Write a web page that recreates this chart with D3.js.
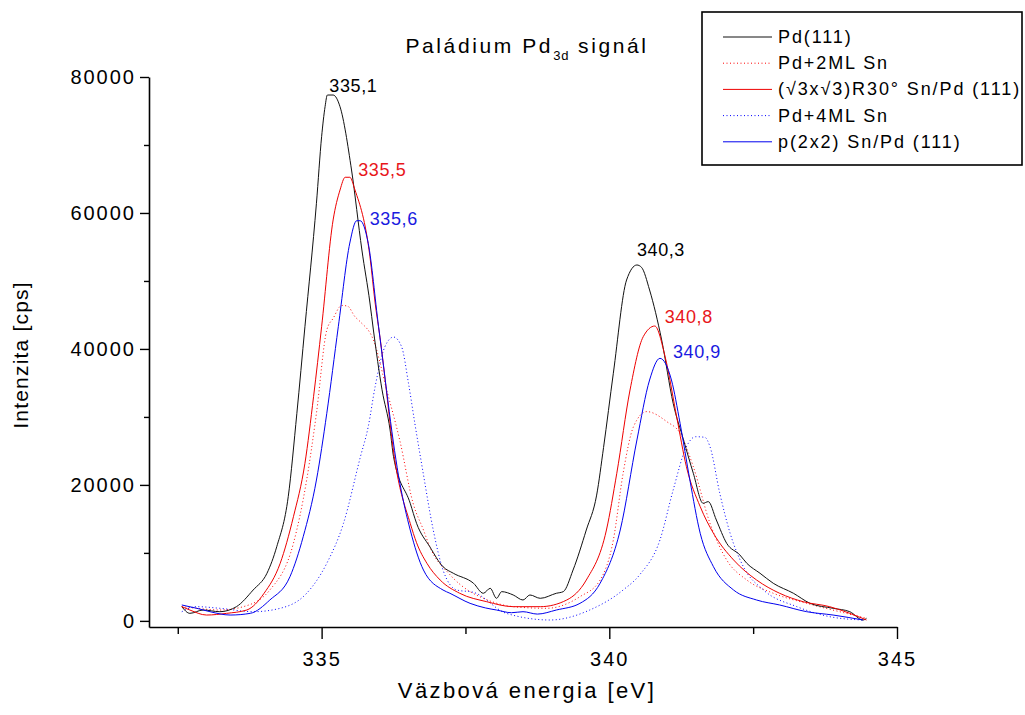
<!DOCTYPE html>
<html>
<head>
<meta charset="utf-8">
<script src="https://cdn.jsdelivr.net/npm/d3@7"></script>
<style>
  body { margin: 0; background: #fff; }
  svg { display: block; font-family: "Liberation Sans", Arial, sans-serif; }
</style>
</head>
<body>
<div id="chart"></div>
<script>
// series names (legend order)
var seriesNames = ["Pd(111)", "Pd+2ML Sn", "(\u221A3x\u221A3)R30\u00B0 Sn/Pd (111)", "Pd+4ML Sn", "p(2x2) Sn/Pd (111)"];

// [energy eV, intensity cps]
var pd111 = [[332.57,2090],[332.71,1110],[332.94,1600],[333.23,1350],[333.52,2090],[333.81,4540],[334.05,7000],[334.22,10910],
  [334.42,18270],[334.57,30530],[334.71,43270],[334.91,61420],[335.0,71220],[335.06,75630],[335.1,77350],[335.2,77350],
  [335.32,75630],[335.52,66320],[335.7,54550],[335.84,46760],[335.9,42790],[336.05,34000],[336.19,28080],[336.25,24150],
  [336.54,17300],[336.65,14350],[336.88,10910],[337.11,7970],[337.29,7000],[337.64,5530],[337.81,4060],[337.93,4790],
  [338.04,3320],[338.13,4300],[338.33,3810],[338.5,3070],[338.62,3810],[338.8,3320],[339.08,4060],[339.2,4300],
  [339.37,7480],[339.6,13370],[339.78,18500],[339.9,25500],[340.07,36420],[340.3,50140],[340.48,52350],[340.56,52000],
  [340.7,48670],[340.91,41320],[341.11,32000],[341.29,26610],[341.46,21710],[341.63,17300],[341.72,17540],[341.86,14840],
  [342.04,11410],[342.27,9690],[342.39,8470],[342.62,7000],[342.85,5530],[343.2,4060],[343.49,2580],[343.89,1850],
  [344.18,1350],[344.41,130],[344.47,380]];

var pd2ml = [[332.57,2090],[332.83,1850],[333.23,1600],[333.64,2090],[334.1,4540],[334.51,11410],[334.74,20720],[334.91,30530],
  [335.09,42790],[335.2,44500],[335.35,46400],[335.45,46300],[335.58,44740],[335.67,44010],[335.9,41320],[336.13,34000],
  [336.36,26500],[336.59,17300],[336.77,13370],[336.88,10910],[337.23,6800],[337.58,4300],[337.75,3560],[338.33,2090],
  [338.91,1850],[339.49,3560],[339.84,6000],[340.07,11900],[340.24,21710],[340.42,28560],[340.65,30780],[341.0,29300],
  [341.23,27590],[341.46,22680],[341.75,14350],[342.04,8960],[342.39,6010],[342.85,4060],[343.43,2580],[344.12,1110],[344.47,380]];

var sqrt3 = [[332.57,2090],[332.71,1600],[333.0,860],[333.35,1110],[333.7,1600],[334.0,4060],[334.28,8470],[334.51,15320],
  [334.71,23180],[334.86,32970],[335.0,43270],[335.2,58970],[335.32,63380],[335.41,65250],[335.49,65250],[335.58,63380],
  [335.84,53570],[335.93,46760],[336.01,42000],[336.3,22190],[336.54,14350],[336.65,11500],[336.83,8470],[337.06,6010],
  [337.4,4060],[337.87,2820],[338.33,2090],[338.8,2090],[339.26,3070],[339.6,6010],[339.95,13370],[340.13,21710],
  [340.36,33960],[340.59,41810],[340.79,43370],[340.97,38860],[341.17,30040],[341.34,22680],[341.58,16800],[341.81,12880],
  [342.16,8960],[342.56,6010],[342.96,4060],[343.37,2820],[343.83,2090],[344.18,1110],[344.47,130]];

var pd4ml = [[332.57,1350],[332.83,2090],[333.23,1850],[333.81,1350],[334.28,1850],[334.74,4060],[335.09,8470],[335.38,14350],
  [335.67,24000],[335.81,28560],[335.93,34450],[336.1,40330],[336.25,41750],[336.39,40330],[336.51,34950],[336.62,29060],
  [336.76,22000],[336.94,13370],[337.11,7480],[337.35,4540],[337.64,4200],[338.21,1110],[338.97,130],[339.66,1600],
  [340.24,4540],[340.53,6800],[340.88,11900],[341.11,19250],[341.34,25620],[341.5,27090],[341.66,27000],[341.75,25620],
  [341.92,18770],[342.1,12880],[342.33,7970],[342.68,4540],[343.26,2090],[343.83,620],[344.41,130]];

var p2x2 = [[332.57,2340],[332.83,1850],[333.06,1350],[333.41,860],[333.76,1110],[334.1,3070],[334.45,6500],[334.68,12380],
  [334.91,20720],[335.09,30530],[335.29,43270],[335.49,55580],[335.61,58860],[335.67,58860],[335.81,55540],[335.99,43270],
  [336.36,20240],[336.54,13370],[336.77,7480],[337.11,4540],[337.23,4060],[337.58,2580],[337.85,1900],[338.04,1600],
  [338.3,1200],[338.5,1350],[338.75,1000],[339.08,1600],[339.49,2580],[339.84,5530],[340.19,13370],[340.48,26610],
  [340.7,35430],[340.88,38620],[341.08,35430],[341.23,29060],[341.4,20720],[341.58,12880],[341.81,7970],[342.16,4540],
  [342.56,3070],[342.96,2340],[343.43,1350],[343.89,860],[344.41,130]];

// peak labels: text, series index, energy window
var peakTexts = ["335,1", "335,5", "335,6", "340,3", "340,8", "340,9"];
var peakSeries = [0, 2, 4, 0, 2, 4];
var peakWindows = [[334, 337], [334, 337], [334, 337], [339, 342], [339, 342], [339, 342]];

var xTicks = [335, 340, 345];
var yTicks = [0, 20000, 40000, 60000, 80000];

var width = 1025, height = 715;
var allData = [pd111, pd2ml, sqrt3, pd4ml, p2x2];
var colors = ["#111111", "#ff0000", "#ee0000", "#0000ff", "#0000ee"];
var dashes = [null, "1,2.5", null, "1,2.5", null];

var svg = d3.select("#chart").append("svg")
  .attr("width", width)
  .attr("height", height);

var x = d3.scaleLinear().domain([332, 345]).range([149, 897]);
var y = d3.scaleLinear().domain([-900, 80000]).range([627, 77]);

// axes
svg.append("g")
  .attr("transform", "translate(0,627)")
  .call(d3.axisBottom(x).tickValues(xTicks).tickSize(12).tickPadding(13).tickSizeOuter(0).tickFormat(d3.format("d")));
svg.append("g")
  .attr("transform", "translate(0,627)")
  .call(d3.axisBottom(x).tickValues([332.5, 337.5, 342.5]).tickSize(7).tickSizeOuter(0).tickFormat(""))
  .select(".domain").remove();

svg.append("g")
  .attr("transform", "translate(149,0)")
  .call(d3.axisLeft(y).tickValues(yTicks).tickSize(9).tickPadding(4).tickSizeOuter(0).tickFormat(d3.format("d")));
svg.append("g")
  .attr("transform", "translate(149,0)")
  .call(d3.axisLeft(y).tickValues([10000, 30000, 50000, 70000]).tickSize(5).tickSizeOuter(0).tickFormat(""))
  .select(".domain").remove();

svg.selectAll(".domain").attr("stroke", "#000").attr("stroke-width", 1.6);
svg.selectAll(".tick line").attr("stroke", "#000").attr("stroke-width", 1.4);
svg.selectAll(".tick text")
  .attr("fill", "#000")
  .style("font-size", "20px")
  .style("letter-spacing", "2px")
  .style("font-family", "Liberation Sans, Arial, sans-serif");

// curves
var line = d3.line()
  .curve(d3.curveMonotoneX)
  .x(function (d) { return x(d[0]); })
  .y(function (d) { return y(d[1]); });

// draw dotted first, solid on top
[1, 3, 0, 2, 4].forEach(function (i) {
  svg.append("path")
    .datum(allData[i])
    .attr("d", line)
    .attr("fill", "none")
    .attr("stroke", colors[i])
    .attr("stroke-width", 1)
    .attr("stroke-dasharray", dashes[i]);
});

// peak labels
var labelOffsets = [[2, -3], [13, -1], [13, 4], [0, -9], [10, -3], [13, 0]];
var labelColors = ["#000", "#e8161b", "#1a1ae0"];
peakTexts.forEach(function (t, i) {
  var pts = allData[peakSeries[i]].filter(function (d) { return d[0] >= peakWindows[i][0] && d[0] <= peakWindows[i][1]; });
  var top = d3.greatest(pts, function (d) { return d[1]; });
  svg.append("text")
    .attr("x", x(top[0]) + labelOffsets[i][0])
    .attr("y", y(top[1]) + labelOffsets[i][1])
    .attr("fill", labelColors[i % 3])
    .style("font-size", "18px")
    .style("letter-spacing", "0.6px")
    .text(t);
});

// title
var title = svg.append("text")
  .attr("x", 527)
  .attr("y", 53)
  .attr("text-anchor", "middle")
  .style("font-size", "21px")
  .style("letter-spacing", "2.6px");
title.append("tspan").text("Paládium Pd");
title.append("tspan").attr("dy", 7).style("font-size", "13px").style("letter-spacing", "1px").text("3d");
title.append("tspan").attr("dy", -7).text(" signál");

// axis titles
svg.append("text")
  .attr("x", 527)
  .attr("y", 698)
  .attr("text-anchor", "middle")
  .style("font-size", "22px")
  .style("letter-spacing", "2.4px")
  .text("Väzbová energia [eV]");

svg.append("text")
  .attr("transform", "translate(28,355) rotate(-90)")
  .attr("text-anchor", "middle")
  .style("font-size", "21px")
  .style("letter-spacing", "1.2px")
  .text("Intenzita [cps]");

// legend
var legend = svg.append("g");
legend.append("rect")
  .attr("x", 702).attr("y", 12)
  .attr("width", 320).attr("height", 153)
  .attr("fill", "#fff")
  .attr("stroke", "#000")
  .attr("stroke-width", 1.6);

seriesNames.forEach(function (name, i) {
  var ly = 37 + i * 26.2;
  legend.append("line")
    .attr("x1", 723).attr("x2", 772)
    .attr("y1", ly).attr("y2", ly)
    .attr("stroke", colors[i])
    .attr("stroke-width", 1)
    .attr("stroke-dasharray", dashes[i]);
  legend.append("text")
    .attr("x", 778).attr("y", ly + 6)
    .style("font-size", "18px")
    .style("letter-spacing", "1.9px")
    .text(name);
});
</script>
</body>
</html>
